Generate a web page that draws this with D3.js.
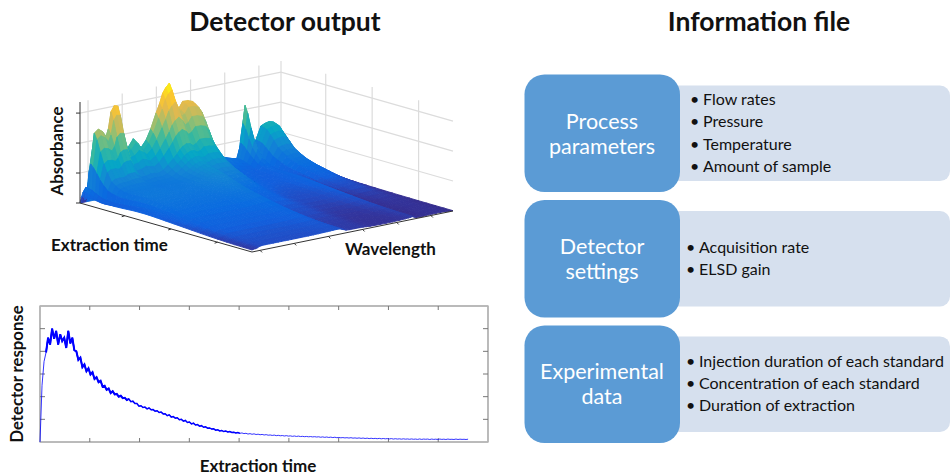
<!DOCTYPE html>
<html><head><meta charset="utf-8">
<script src="https://cdnjs.cloudflare.com/ajax/libs/d3/7.8.5/d3.min.js"></script>
<style>html,body{margin:0;padding:0;background:#fff}svg{display:block}text{font-family:Lato,"Open Sans",sans-serif}</style>
</head><body><svg id="c" width="950" height="475"></svg>
<script>
// Surface: wavelength grid and three spectra estimated from the picture's silhouette and front edge
const wavelengths = [0,.008,.018,.026,.032,.05,.07,.09,.108,.12,.133,.149,.166,.182,.199,.22,.244,.265,.282,.307,.33,.357,.375,.39,.405,.423,.44,.456,.47,.489,.515,.539,.555,.57,.59,.61,.64,.67,.7,.735,.763,.78,.79,.80,.81,.82,.837,.854,.879,.90,.92,.94,.96,.98,1];
const broadSpectrum = [.35,.5,.2,.3,.8,1.15,1.25,1.3,1.3,1.3,1.3,1.3,1.3,1.25,1.2,1.2,1.25,1.25,1.25,1.35,1.55,1.8,2,2.2,2.35,2.45,2.5,2.45,2.55,2.76,2.75,2.69,2.5,2.1,1.55,1.15,.85,.7,.6,.52,.48,.62,.66,.7,.68,.62,.55,.98,1.41,1.47,1.5,1.46,1.2,.7,.25];
const sharpSpectrum = [.1,.05,0,0,.5,1.15,1.16,1,.82,1.05,1.6,1.78,1.75,1,.35,.42,.6,.43,.25,.37,.5,.75,.85,.97,.98,1.01,.5,.1,0,0,0,0,0,0,0,0,0,0,0,0,0,.35,.95,1.5,1,.5,0,0,0,0,0,0,0,0,0];
const tailSpectrum = [.2,.24,.28,.32,.36,.42,.42,.42,.42,.42,.42,.42,.42,.42,.42,.42,.42,.42,.42,.42,.42,.42,.42,.42,.42,.42,.4,.25,.12,.08,.08,.08,.08,.08,.08,.09,.1,.11,.12,.15,.18,.2,.22,.24,.14,.06,.03,.03,.03,.03,.03,.03,.03,.03,.02];
const timeGrid = [0,.008,.016,.025,.04,.06,.08,.1,.125,.15,.175,.2,.225,.25,.275,.3,.325,.35,.375,.4,.425,.45,.475,.5,.55,.6,.65,.7,.75,.8,.85,.9,.95,1];
const broadDecay = [0,.45,.8,1,.98,.95,.85,.74,.6,.52,.45,.39,.35,.31,.28,.25,.22,.19,.16,.135,.115,.1,.09,.08,.065,.05,.04,.035,.03,.025,.022,.02,.02,.02];
const sharpDecay = [0,.45,.8,1,.85,.55,.33,.22,.1,.05,.02,0,0,0,0,0,0,0,0,0,0,0,0,0,0,0,0,0,0,0,0,0,0,0];
const tailDecay = [0,0,0,0,0,0,0,0,.08,.18,.28,.38,.48,.58,.68,.78,.86,.92,.97,1,1,.98,.95,.92,.85,.78,.7,.6,.52,.46,.4,.36,.33,.3];
const zTicks = [0,1,2,3];
const waveTicks = [.04,.21,.38,.55,.72,.89];
const timeTicks = [.26,.53,.8];
const colorLevels = [0,.06,.13,.25,.43,.87,1.3,1.73,2.16,2.6,3.03,3.46];
const colorStops = ["#352a87","#33349c","#2449c0","#1260dd","#0a6be0","#1485d4","#06a7c6","#38b99e","#92bf73","#e0b950","#fcc82e","#f9fb0e"];

// Detector trace (2 px samples, read by eye, alternating edges of the noisy band)
const response = [0,2.5,3.55,3.95,4.6,4.3,5,4.55,4.9,4.3,4.75,4.45,4.6,4.15,4.9,4.35,4.6,4.05,4,3.62,3.72,3.3,3.42,3.12,3.25,2.98,3.08,2.78,2.86,2.64,2.7,2.44,2.48,2.3,2.36,2.16,2.24,2.1,2.12,2,2.04,1.93,1.95,1.85,1.9,1.78,1.8,1.7,1.7,1.58,1.6,1.52,1.54,1.46,1.5,1.42,1.43,1.36,1.38,1.3,1.32,1.24,1.25,1.16,1.2,1.1,1.12,1.05,1.07,.98,1,.92,.95,.86,.88,.8,.83,.75,.77,.7,.72,.65,.67,.61,.62,.57,.58,.52,.54,.49,.51,.46,.48,.44,.46,.42,.43,.4,.42,.38,.4,.37,.385,.35,.37,.34,.36,.33,.345,.32,.335,.31,.325,.3,.31,.29,.305,.28,.295,.275,.285,.265,.28,.26,.27,.25,.265,.245,.26,.24,.25,.235,.245,.23,.24,.225,.235,.22,.23,.21,.225,.205,.22,.2,.215,.195,.21,.19,.2,.185,.195,.18,.19,.175,.19,.17,.18,.165,.18,.16,.175,.155,.17,.15,.165,.15,.16,.145,.16,.14,.155,.14,.15,.135,.15,.13,.145,.13,.14,.125,.14,.125,.135,.12,.135,.12,.13,.115,.135,.115,.13,.12,.13,.11,.13,.115,.125,.11,.13,.115,.125,.11,.13,.115,.12,.11,.13,.11,.125,.115,.12,.11,.125];
const responseEnd = 8.6;
const xTicks2D = [0,1,2,3,4,5,6,7,8,9];
const yTicks2D = [0,1,2,3,4,5,6];

// Right-hand panel
const categories = ["Process parameters","Detector settings","Experimental data"];
const catLines = [["Process","parameters"],["Detector","settings"],["Experimental","data"]];
const items = [["Flow rates","Pressure","Temperature","Amount of sample"],["Acquisition rate","ELSD gain"],["Injection duration of each standard","Concentration of each standard","Duration of extraction"]];

const svg = d3.select("#c");

// 3D axis projection, expressed as linear scales
const O = {x:80,y:203};
const vx=d3.scaleLinear([0,1],[0,201]), vy=d3.scaleLinear([0,1],[0,-41]);
const ux=d3.scaleLinear([0,1],[0,172]), uy=d3.scaleLinear([0,1],[0,49]);
const zy=d3.scaleLinear([0,3.37],[0,-101]);
const proj=(v,u,z)=>[O.x+vx(v)+ux(u),O.y+vy(v)+uy(u)+zy(z)];
const color=d3.scaleLinear().domain(colorLevels).range(colorStops).clamp(true);
const line=d3.line();

// walls
const grid=svg.append("g").attr("stroke","#dcdcdc").attr("stroke-width",1.2).attr("fill","none");
const zTop=3.37;
zTicks.forEach(z=>{grid.append("path").attr("d",line([proj(0,0,z),proj(1,0,z),proj(1,1,z)]));});
waveTicks.forEach(v=>grid.append("path").attr("d",line([proj(v,0,0),proj(v,0,zTop)])));
timeTicks.forEach(u=>grid.append("path").attr("d",line([proj(1,u,0),proj(1,u,zTop)])));
grid.append("path").attr("d",line([proj(1,0,0),proj(1,0,zTop)]));

// surface, painted from the back corner to the front corner
const zAt=(i,j)=>broadSpectrum[i]*broadDecay[j]+sharpSpectrum[i]*sharpDecay[j]+tailSpectrum[i]*tailDecay[j];
const cells=[];
for(let j=0;j<timeGrid.length-1;j++){
  for(let i=wavelengths.length-2;i>=0;i--){
    const zs=[zAt(i,j),zAt(i+1,j),zAt(i+1,j+1),zAt(i,j+1)];
    cells.push({pts:[proj(wavelengths[i],timeGrid[j],zs[0]),proj(wavelengths[i+1],timeGrid[j],zs[1]),proj(wavelengths[i+1],timeGrid[j+1],zs[2]),proj(wavelengths[i],timeGrid[j+1],zs[3])],z:d3.mean(zs)});
  }
}
svg.append("g").style("filter","blur(0.6px)").selectAll("path").data(cells).join("path")
  .attr("d",d=>line(d.pts)+"Z").attr("fill",d=>color(d.z)).attr("stroke",d=>color(d.z)).attr("stroke-width",.9).attr("stroke-linejoin","round");

// 3D axes
const ax=svg.append("g").attr("stroke","#333").attr("stroke-width",1).attr("fill","none");
ax.append("path").attr("d",line([proj(0,0,zTop),proj(0,0,0),proj(0,1,0),proj(1,1,0)]));
zTicks.forEach(z=>{const p=proj(0,0,z);ax.append("path").attr("d",line([p,[p[0]-4,p[1]]]));});
timeTicks.forEach(u=>{const p=proj(0,u,0);ax.append("path").attr("d",line([p,[p[0]-3,p[1]+1]]));});
waveTicks.forEach(v=>{const p=proj(v,1,0);ax.append("path").attr("d",line([p,[p[0]+2,p[1]+2]]));});

// 2D trace
const x2=d3.scaleLinear([0,9],[40,488]), y2=d3.scaleLinear([0,6],[442,306]);
const g2=svg.append("g");
const frame=g2.append("g").attr("stroke","#777").attr("fill","none");
frame.append("rect").attr("x",x2(0)).attr("y",y2(6)).attr("width",x2(9)-x2(0)).attr("height",y2(0)-y2(6)).attr("stroke-width",1);
[0,9].forEach(t=>frame.append("path").attr("stroke","#bbb").attr("stroke-width",1.6).attr("d",line([[x2(t),y2(0)],[x2(t),y2(6)]])));
xTicks2D.slice(1,-1).forEach(t=>{frame.append("path").attr("d",line([[x2(t),y2(0)],[x2(t),y2(0)-4]]));frame.append("path").attr("d",line([[x2(t),y2(6)],[x2(t),y2(6)+4]]));});
yTicks2D.slice(1,-1).forEach(t=>{frame.append("path").attr("d",line([[x2(0),y2(t)],[x2(0)+5,y2(t)]]));frame.append("path").attr("d",line([[x2(9),y2(t)],[x2(9)-5,y2(t)]]));});
const trace=d3.line().x(d=>x2(d.i/(response.length-1)*responseEnd)).y(d=>y2(d.v));
const pts=response.map((v,i)=>({i,v}));
g2.append("path").datum(pts).attr("fill","none").attr("stroke","#0000ff").attr("stroke-width",.8).attr("d",trace);
g2.append("path").datum(pts.slice(3,100)).attr("fill","none").attr("stroke","#0000ff").attr("stroke-width",1.5).attr("d",trace);
g2.append("path").datum(pts.slice(3,45)).attr("fill","none").attr("stroke","#0000ff").attr("stroke-width",2).attr("d",trace);

// titles and labels
const T=(x,y,s,size,weight,anchor,rot)=>{const t=svg.append("text").attr("x",x).attr("y",y).text(s).attr("font-size",size).attr("font-weight",weight).attr("text-anchor",anchor||"start").attr("fill","#111");if(rot)t.attr("transform",`rotate(${rot} ${x} ${y})`);return t;};
T(285,31,"Detector output",26.5,700,"middle");
T(759,31,"Information file",26.5,700,"middle");
T(63,151,"Absorbance",16.8,700,"middle",-90);
T(51,251,"Extraction time",17,700);
T(345,255,"Wavelength",17,700);
T(23,374,"Detector response",16.7,700,"middle",-90);
T(258,472,"Extraction time",17,700,"middle");

// boxes
const boxY=d3.scaleBand().domain(categories).range([74.5,443]).paddingInner(.0625).paddingOuter(0);
const rows=svg.append("g");
const lineH=[22.3,22,22];
const firstBase=[105,253,367];
const textX=[703,699,699];
categories.forEach((c,k)=>{
  const y=boxY(c),h=boxY.bandwidth();
  rows.append("rect").attr("x",660).attr("y",y+11).attr("width",290).attr("height",h-22).attr("rx",10).attr("fill","#d6e0ee");
  rows.append("rect").attr("x",524.5).attr("y",y).attr("width",155.5).attr("height",h).attr("rx",20).attr("fill","#5b9bd5");
  catLines[k].forEach((s,i)=>{
    rows.append("text").attr("x",602).attr("y",y+54+i*25).attr("text-anchor","middle").attr("font-size",21.5).attr("fill","#fff").text(s);
  });
  items[k].forEach((s,i)=>{
    const by=firstBase[k]+i*lineH[k];
    rows.append("text").attr("x",textX[k]-13).attr("y",by).attr("font-size",16).attr("fill","#111").text("•");
    rows.append("text").attr("x",textX[k]).attr("y",by).attr("font-size",16).attr("fill","#111").text(s);
  });
});
</script></body></html>
